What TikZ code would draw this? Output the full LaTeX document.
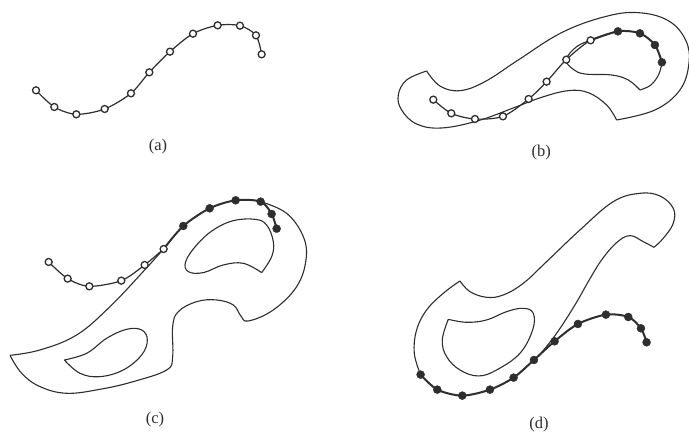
\documentclass[tikz,border=0pt]{standalone}
\usepackage{fontspec}
\setmainfont{Liberation Serif}
\definecolor{ink}{HTML}{2E2E2E}
\tikzset{
  outline/.style={draw=ink,line width=1.1pt,line join=round},
  thinspline/.style={draw=ink,line width=1.2pt},
  heavyspline/.style={draw=ink,line width=2pt},
  openpt/.style={circle,draw=ink,fill=white,line width=1.3pt,inner sep=0pt,minimum size=7pt},
  fullpt/.style={circle,draw=ink,fill=ink,line width=0.4pt,inner sep=0pt,minimum size=8pt},
  panel/.style={x=0.3333pt,y=-0.3333pt},
  caption/.style={font=\fontsize{16.5}{18}\selectfont,text=ink,inner sep=0pt}
}
\begin{document}
\begin{tikzpicture}[x=1pt,y=-1pt]
\useasboundingbox[fill=white] (0,0) rectangle (689,433);
% ---------- (a)
\begin{scope}[panel]
\foreach \n/\p in {1/{108,271},2/{163,321},3/{229,343},4/{314,327},5/{393,280},6/{448,217},7/{510,155},8/{579,101},9/{653,76},10/{720,77},11/{768,106},12/{785,163}}
  \coordinate (a\n) at (\p);
\draw[thinspline] plot[smooth,tension=0.5] coordinates {(a1)(a2)(a3)(a4)(a5)(a6)(a7)(a8)(a9)(a10)(a11)(a12)};
\foreach \n in {1,...,12} \node[openpt] (na\n) at (a\n) {};
\node[caption] (capa) at (474,441) {(a)};
\end{scope}
% ---------- (b)
\begin{scope}[panel,shift={(1035,0)}]
\foreach \n/\p in {1/{265,299},2/{319,340},3/{390,357},4/{474,349},5/{551,297},6/{605,245},7/{664,179},8/{737,121},9/{819,94},10/{885,100},11/{930,135},12/{951,187}}
  \coordinate (b\n) at (\p);
\draw[outline] plot[smooth,tension=0.65] coordinates {(245,213)(285,258)(345,272)(420,245)(520,180)(650,98)(780,50)(880,38)(970,62)(1022,120)(1032,190)(1005,270)(930,330)(815,360)};
\draw[outline] plot[smooth,tension=0.65] coordinates {(815,360)(785,315)(730,278)(670,272)(590,292)(510,322)(400,362)(290,384)(215,372)(170,330)(160,285)(185,240)(245,213)};
\draw[outline] plot[smooth,tension=0.65] coordinates {(885,270)(850,240)(800,225)(720,222)(685,208)(664,179)(695,140)(737,121)};
\draw[outline] plot[smooth,tension=0.65] coordinates {(885,270)(918,255)(942,222)(951,187)};
\draw[thinspline] plot[smooth,tension=0.5] coordinates {(b1)(b2)(b3)(b4)(b5)(b6)(b7)(b8)(b9)};
\draw[heavyspline] plot[smooth,tension=0.5] coordinates {(b8)(b9)(b10)(b11)(b12)};
\foreach \n in {1,...,8} \node[openpt] (nb\n) at (b\n) {};
\foreach \n in {9,...,12} \node[fullpt] (nb\n) at (b\n) {};
\node[caption] (capb) at (589,458) {(b)};
\end{scope}
% ---------- (c)
\begin{scope}[panel,shift={(0,510)}]
\foreach \n/\p in {1/{146,276},2/{203,326},3/{268,349},4/{364,332},5/{434,285},6/{491,237},7/{550,168},8/{629,115},9/{707,91},10/{782,95},11/{815,132},12/{830,176}}
  \coordinate (c\n) at (\p);
\draw[outline] plot[smooth,tension=0.65] coordinates {(30,556)(120,540)(230,495)(330,410)(434,300)(491,237)};
\draw[outline] plot[smooth,tension=0.65] coordinates {(782,95)(860,130)(910,200)(918,270)(890,350)(820,420)(745,453)(722,437)(700,405)(650,390)(590,395)(535,425)(518,470)(518,560)(500,600)(400,635)(300,658)(200,670)(120,650)(65,610)(30,556)};
\draw[outline] plot[smooth,tension=0.65] coordinates {(785,308)(815,260)(820,215)(800,165)(765,148)(700,152)(640,180)(590,225)(557,275)(565,305)(610,308)(670,285)(730,280)(785,308)};
\draw[outline] plot[smooth,tension=0.65] coordinates {(193,570)(260,550)(320,505)(380,478)(425,480)(442,510)(425,555)(370,600)(300,620)(240,610)(193,570)};
\draw[thinspline] plot[smooth,tension=0.5] coordinates {(c1)(c2)(c3)(c4)(c5)(c6)};
\draw[heavyspline] plot[smooth,tension=0.5] coordinates {(c6)(c7)(c8)(c9)(c10)(c11)(c12)};
\foreach \n in {1,...,6} \node[openpt] (nc\n) at (c\n) {};
\foreach \n in {7,...,12} \node[fullpt] (nc\n) at (c\n) {};
\node[caption] (capc) at (465,750) {(c)};
\end{scope}
% ---------- (d)
\begin{scope}[panel,shift={(1140,510)}]
\foreach \n/\p in {1/{122,614},2/{172,659},3/{247,677},4/{330,659},5/{401,623},6/{462,570},7/{524,514},8/{594,462},9/{678,434},10/{745,441},11/{783,475},12/{800,517}}
  \coordinate (d\n) at (\p);
\draw[outline] plot[smooth,tension=0.65] coordinates {(240,333)(270,365)(320,382)(370,375)(430,340)(500,275)(600,180)(700,95)(780,70)(840,78)(880,115)(880,160)(850,205)(822,232)};
\draw[outline] plot[smooth,tension=0.65] coordinates {(822,232)(790,215)(750,197)(710,218)(665,270)(625,335)(585,405)(530,490)(475,560)};
\draw[outline] plot[smooth,tension=0.65] coordinates {(122,614)(103,550)(110,480)(140,420)(190,370)(240,333)};
\draw[outline] plot[smooth,tension=0.65] coordinates {(205,448)(260,457)(320,450)(380,425)(430,415)(460,430)(458,480)(420,550)(350,600)(295,618)(240,600)(200,560)(187,510)(205,448)};
\draw[heavyspline] plot[smooth,tension=0.5] coordinates {(d1)(d2)(d3)(d4)(d5)(d6)(d7)(d8)(d9)(d10)(d11)(d12)};
\foreach \n in {1,...,12} \node[fullpt] (nd\n) at (d\n) {};
\node[caption] (capd) at (477,765) {(d)};
\end{scope}
\end{tikzpicture}
\end{document}
